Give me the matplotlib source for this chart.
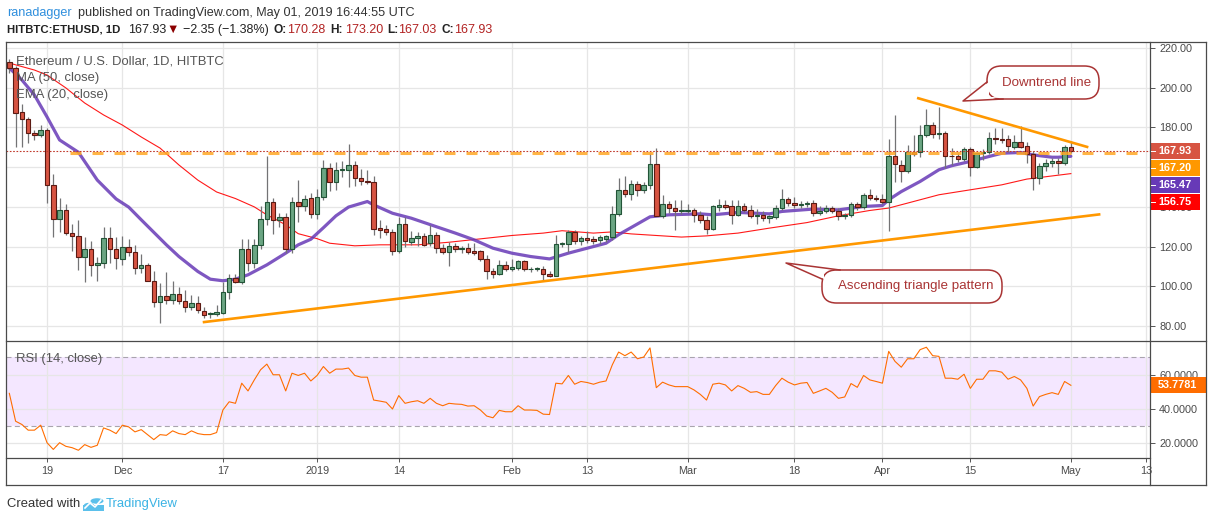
import numpy as np
import pandas as pd
import matplotlib
matplotlib.use("Agg")
import matplotlib.pyplot as plt
import matplotlib.dates as mdates
from matplotlib.patches import FancyBboxPatch, Polygon, Rectangle, Circle
from matplotlib.lines import Line2D

plt.rcParams['font.family'] = ['Liberation Sans', 'DejaVu Sans']

# ---------------- DATA ----------------
dates = pd.date_range('2018-11-13', '2019-05-01', freq='D')

opens = [213.0, 209.8, 187.6, 184.2, 177.4, 176.0, 178.7, 150.9, 133.8, 138.3, 126.8, 125.3, 114.7, 118.7, 110.7, 111.7, 124.2, 118.7,
         113.7, 119.7, 117.2, 109.1, 110.7, 102.9, 92.0, 95.2, 93.0, 96.0, 92.4, 89.5, 91.5, 87.8, 85.9, 86.0, 86.8, 96.9, 104.1, 102.4,
         118.7, 111.7, 120.6, 133.8, 142.7, 133.3, 134.8, 118.7, 142.4, 140.2, 144.4,
         136.5, 144.9, 159.5, 152.4, 158.5, 158.7, 161.2, 154.5, 153.0, 152.4, 129.3, 128.8, 127.3, 118.0, 131.3, 122.3, 124.2, 125.4,
         121.7, 125.9, 119.2, 117.5, 120.4, 118.9, 119.2, 117.9, 117.9, 113.7, 107.8, 106.3, 110.7,
         108.6, 109.1, 112.5, 108.5, 108.6, 108.6, 106.3, 105.4, 121.2, 121.2, 127.4, 122.6, 124.2, 123.7, 123.1, 123.7, 124.6, 136.4,
         148.6, 146.4, 151.6, 148.6, 150.8, 161.5, 135.5, 141.4, 139.4, 137.7,
         138.1, 138.2, 136.0, 133.5, 128.8, 140.0, 141.0, 140.2, 136.0, 140.2, 138.2, 135.6, 136.0, 134.3, 134.8, 139.4, 143.9, 141.9,
         140.7, 141.2, 141.9, 136.8, 137.7, 139.4, 138.0, 135.2, 135.7, 141.4, 139.9, 146.1, 144.7,
         144.0, 142.7, 165.7, 161.2, 158.3, 167.6, 167.6, 176.3, 181.3, 176.6, 177.1, 165.7, 165.4, 164.2, 169.1, 160.3, 167.1, 167.6,
         174.6, 174.3, 174.3, 170.4, 172.9, 170.7, 166.5, 154.5, 160.7, 162.3, 163.2, 162.0, 170.28]
highs = [214.5, 211.0, 191.8, 185.5, 178.7, 181.0, 179.5, 156.6, 144.4, 141.5, 131.5, 133.5, 124.8, 123.0, 115.0, 129.8, 129.8, 124.8,
         125.4, 123.7, 120.7, 116.4, 111.5, 107.5, 101.6, 107.0, 102.8, 99.6, 98.2, 95.7, 95.3, 89.8, 86.9, 90.7, 102.4, 106.3, 106.3,
         123.7, 123.7, 123.7, 140.2, 165.4, 144.4, 137.0, 136.8, 145.2, 153.3, 146.1, 147.2,
         149.0, 163.7, 162.3, 162.5, 163.0, 171.7, 162.9, 159.2, 158.7, 155.3, 133.5, 131.0, 129.1, 134.8, 134.8, 128.0, 127.3, 126.8,
         131.0, 127.4, 121.4, 122.1, 121.7, 120.5, 121.8, 122.0, 118.5, 115.9, 109.1, 113.5, 112.5,
         114.0, 113.4, 113.4, 109.8, 109.8, 110.0, 107.5, 126.0, 122.5, 128.4, 128.4, 125.5, 127.8, 125.5, 126.0, 126.0, 140.5, 154.5,
         155.5, 153.3, 153.0, 152.5, 167.0, 169.6, 146.1, 143.0, 143.3, 143.3,
         141.5, 139.4, 138.0, 135.5, 141.0, 143.9, 143.5, 143.5, 143.5, 141.9, 141.0, 139.0, 137.7, 136.0, 141.0, 149.1, 145.2, 144.9,
         143.0, 143.0, 143.3, 140.2, 141.0, 140.2, 139.4, 136.8, 142.7, 142.7, 147.0, 149.1, 146.0,
         146.5, 174.1, 186.4, 163.7, 171.2, 176.3, 181.3, 189.2, 182.5, 190.5, 178.0, 169.5, 167.0, 170.0, 170.0, 167.3, 169.0, 177.9,
         179.5, 179.5, 176.3, 176.3, 180.5, 172.9, 168.0, 162.0, 163.9, 164.5, 164.5, 171.2, 173.20]
lows = [207.5, 170.3, 170.3, 172.0, 173.6, 175.0, 141.9, 124.6, 127.6, 125.9, 118.0, 108.0, 102.4, 105.3, 102.9, 109.1, 111.7, 108.6,
        110.8, 115.4, 106.3, 106.5, 102.5, 89.8, 81.4, 91.0, 91.2, 91.0, 87.3, 88.0, 86.5, 84.0, 83.9, 85.0, 86.0, 93.6, 101.6, 101.0,
        107.5, 109.0, 119.0, 131.0, 126.4, 130.0, 116.7, 117.0, 132.6, 138.0, 134.3,
        134.0, 143.5, 148.2, 148.6, 155.0, 150.0, 150.3, 151.0, 151.5, 125.9, 124.2, 126.0, 115.9, 117.0, 119.7, 121.0, 120.4, 120.2,
        120.2, 117.0, 116.5, 110.2, 117.5, 116.8, 116.4, 116.0, 113.0, 103.6, 104.2, 105.5, 107.5,
        107.5, 108.0, 107.8, 107.2, 107.5, 102.9, 104.5, 105.0, 120.0, 117.5, 121.5, 121.0, 122.0, 121.5, 121.5, 122.5, 123.5, 135.2,
        144.9, 143.6, 145.5, 147.0, 149.1, 135.2, 134.5, 137.0, 128.4, 136.5,
        137.0, 132.5, 131.8, 126.5, 128.5, 138.0, 139.0, 131.5, 135.5, 137.5, 134.5, 131.5, 133.0, 131.7, 134.0, 138.5, 140.5, 139.5,
        139.5, 140.0, 135.2, 135.8, 137.0, 136.8, 133.2, 134.0, 135.0, 138.5, 139.0, 143.5, 143.0,
        141.5, 128.1, 152.3, 152.3, 157.0, 165.4, 165.0, 175.0, 174.6, 174.0, 159.5, 161.0, 162.8, 163.0, 155.3, 159.5, 163.5, 166.5,
        171.5, 172.0, 167.8, 169.0, 169.5, 162.0, 148.6, 151.6, 158.0, 160.0, 156.4, 161.0, 167.03]
closes = [210.0, 187.1, 184.2, 177.4, 176.0, 178.7, 150.9, 133.8, 138.3, 126.8, 125.3, 114.7, 118.7, 110.7, 111.7, 124.2, 118.7, 114.2,
          119.7, 117.2, 109.1, 110.7, 102.9, 92.0, 95.2, 93.0, 96.0, 92.4, 89.5, 91.5, 88.2, 85.6, 86.3, 87.0, 96.9, 104.1, 102.4,
          118.7, 111.7, 120.6, 133.8, 142.7, 133.3, 134.8, 118.7, 142.4, 140.2, 143.9, 136.5,
          144.9, 159.5, 152.4, 158.7, 158.9, 161.2, 154.5, 152.8, 152.4, 129.1, 128.6, 127.3, 118.0, 131.3, 122.6, 124.2, 125.4, 120.9,
          125.9, 119.2, 117.5, 120.4, 118.7, 119.3, 117.2, 117.0, 113.7, 107.8, 106.3, 110.7, 108.6,
          109.5, 112.5, 108.6, 108.7, 108.8, 106.1, 105.4, 121.2, 121.4, 127.4, 122.6, 124.2, 123.4, 122.6, 124.7, 125.1, 136.4, 148.6,
          146.4, 151.6, 148.6, 150.8, 161.5, 135.5, 141.4, 139.4, 137.7, 138.5,
          138.4, 135.7, 133.5, 128.8, 140.2, 141.0, 140.0, 136.0, 140.2, 138.2, 135.5, 135.8, 134.3, 135.2, 139.4, 143.9, 141.9, 140.7,
          141.5, 141.9, 136.8, 138.0, 139.4, 138.0, 135.5, 136.0, 141.4, 139.9, 146.1, 144.4, 143.9,
          142.7, 165.7, 161.7, 158.3, 167.6, 166.7, 176.3, 181.3, 176.8, 177.3, 165.4, 165.4, 164.2, 169.1, 160.3, 167.0, 167.5, 174.6,
          174.3, 173.9, 170.7, 172.9, 170.4, 166.5, 154.5, 160.7, 162.3, 163.2, 162.0, 170.1, 167.93]

rsi = [49.1, 32.9, 31.0, 27.7, 27.7, 30.6, 20.4, 16.5, 20.4, 18.3, 17.5, 16.0, 19.3, 17.7, 18.9, 29.0, 27.7, 25.7,
       30.6, 29.6, 26.7, 28.0, 25.1, 22.2, 25.1, 24.7, 27.3, 25.7, 25.1, 27.3, 25.7, 25.1, 25.1, 26.3, 39.4, 44.2, 43.3, 55.0,
       50.5, 56.9, 62.8, 66.1, 59.9, 59.9, 50.5, 60.8, 59.5, 60.8, 56.3,
       59.5, 64.7, 60.8, 63.2, 63.2, 63.8, 59.5, 58.5, 58.5, 45.2, 44.6, 43.9, 40.0, 47.8, 43.3, 44.2, 44.8, 43.3, 46.2, 43.3,
       41.9, 43.3, 42.9, 42.7, 41.7, 41.9, 39.4, 35.9, 34.9, 39.2, 38.4,
       38.4, 41.9, 39.4, 39.4, 39.2, 37.0, 36.8, 55.0, 54.6, 59.5, 54.4, 56.0, 55.4, 54.4, 55.6, 56.3, 65.7, 73.1, 71.0, 73.1,
       69.2, 70.2, 75.5, 52.4, 55.6, 54.0, 53.0, 53.0,
       53.0, 51.1, 48.5, 45.2, 54.4, 55.0, 54.0, 50.5, 53.6, 52.0, 49.7, 50.1, 48.5, 48.5, 53.6, 57.9, 55.6, 54.0, 55.0, 55.4,
       49.1, 50.5, 52.0, 49.7, 46.2, 47.0, 54.8, 52.6, 59.5, 56.9, 56.0,
       55.0, 73.5, 67.7, 64.3, 69.2, 69.2, 74.5, 75.9, 71.0, 70.6, 57.9, 57.9, 57.3, 60.2, 52.0, 57.3, 57.3, 62.2, 62.2, 61.4,
       57.3, 58.9, 56.9, 52.0, 41.7, 47.2, 48.5, 49.5, 48.5, 56.0, 53.78]
rsi_last = 53.7781

ema_dates = ['2018-11-13', '2018-11-15', '2018-11-17', '2018-11-19', '2018-11-21', '2018-11-24', '2018-11-27', '2018-11-30',
             '2018-12-02', '2018-12-04', '2018-12-08', '2018-12-10', '2018-12-13', '2018-12-15', '2018-12-17', '2018-12-19',
             '2018-12-21', '2018-12-24', '2018-12-27', '2018-12-29', '2018-12-31', '2019-01-02', '2019-01-04', '2019-01-06',
             '2019-01-09', '2019-01-10', '2019-01-13', '2019-01-16', '2019-01-20', '2019-01-23', '2019-01-26', '2019-01-29',
             '2019-02-01', '2019-02-04', '2019-02-07', '2019-02-10', '2019-02-13', '2019-02-16', '2019-02-18', '2019-02-23',
             '2019-02-26', '2019-03-03', '2019-03-05', '2019-03-09', '2019-03-14', '2019-03-16', '2019-03-21', '2019-03-25',
             '2019-03-29', '2019-04-01', '2019-04-02', '2019-04-04', '2019-04-07', '2019-04-10', '2019-04-12', '2019-04-15',
             '2019-04-18', '2019-04-20', '2019-04-23', '2019-04-25', '2019-04-28', '2019-04-29', '2019-05-01']
ema_vals = [209.9, 203.9, 196.3, 185.3, 173.7, 167.5, 153.5, 144.0, 139.9, 133.5, 120.9, 115.0, 107.5, 103.6, 102.8, 103.6,
            105.8, 110.8, 116.7, 120.9, 123.7, 129.5, 135.5, 139.9, 142.7, 141.0, 136.8, 134.3, 130.0, 126.8, 123.4, 119.2,
            116.7, 115.0, 113.8, 116.7, 119.2, 121.7, 126.0, 135.0, 136.0, 136.5, 136.0, 137.2, 136.5, 137.7, 138.9, 138.5,
            140.2, 140.7, 143.6, 147.7, 152.8, 158.7, 160.7, 162.9, 165.4, 167.0, 167.4, 166.2, 165.0, 165.0, 165.47]

ma_dates = ['2018-11-13', '2018-11-17', '2018-11-19', '2018-11-22', '2018-11-25', '2018-11-28', '2018-12-01', '2018-12-04',
            '2018-12-07', '2018-12-10', '2018-12-13', '2018-12-16', '2018-12-19', '2018-12-22', '2018-12-24', '2018-12-27',
            '2018-12-29', '2019-01-01', '2019-01-03', '2019-01-07', '2019-01-11', '2019-01-17', '2019-01-22', '2019-01-27',
            '2019-02-01', '2019-02-06', '2019-02-09', '2019-02-14', '2019-02-17', '2019-02-20', '2019-02-28', '2019-03-04',
            '2019-03-09', '2019-03-14', '2019-03-20', '2019-03-25', '2019-03-30', '2019-04-02', '2019-04-05', '2019-04-10',
            '2019-04-15', '2019-04-20', '2019-04-24', '2019-05-01']
ma_vals = [212.4, 208.9, 206.4, 199.9, 192.3, 186.3, 181.2, 175.2, 169.6, 161.1, 153.5, 147.5, 144.2, 140.0, 136.0, 131.0,
           126.5, 124.0, 121.7, 120.4, 120.9, 120.9, 122.2, 123.9, 125.6, 126.8, 128.0, 126.8, 127.4, 126.4, 124.8, 125.4,
           126.8, 129.3, 132.1, 135.5, 138.2, 139.4, 141.9, 146.1, 148.6, 151.1, 154.0, 156.75]

resistance = 167.20
resistance_span = ['2018-11-22 16:00', '2019-05-11 17:00']
support_dates = ['2018-12-14 00:00', '2019-05-05 12:00']
support_vals = [82.0, 136.2]
downtrend_dates = ['2019-04-06 17:00', '2019-05-03 14:00']
downtrend_vals = [194.7, 170.2]

tick_dates = ['2018-11-19', '2018-12-01', '2018-12-17', '2019-01-01', '2019-01-14', '2019-02-01', '2019-02-13',
              '2019-03-01', '2019-03-18', '2019-04-01', '2019-04-15', '2019-05-01', '2019-05-13']
tick_labels = ['19', 'Dec', '17', '2019', '14', 'Feb', '13', 'Mar', '18', 'Apr', '15', 'May', '13']


def dnum(lst):
    return mdates.date2num(pd.to_datetime(lst, format='mixed'))


# ---------------- FIGURE ----------------
W, H = 1213, 521
fig = plt.figure(figsize=(W / 100, H / 100), dpi=100)
fig.patch.set_facecolor('white')


def fx(px):
    return px / W


def fy(py):
    return 1 - py / H


ax = fig.add_axes([fx(6), fy(341), (1150 - 6) / W, (341 - 42) / H])
rax = fig.add_axes([fx(6), fy(458), (1150 - 6) / W, (458 - 341) / H], sharex=ax)

x = mdates.date2num(dates)
o = np.array(opens)
h = np.array(highs)
l = np.array(lows)
c = np.array(closes)
x0 = mdates.date2num(pd.Timestamp('2018-11-19'))

for a in (ax, rax):
    for s in a.spines.values():
        s.set_visible(False)
    a.set_facecolor('none')
    a.set_axisbelow(True)
    a.set_xticks(dnum(tick_dates))
    a.grid(True, color='#e6e6e6', lw=0.9)

ax.set_xlim(x0 - 6.53, x0 + 175.6)
ax.set_ylim(72.47, 223.02)
rax.set_ylim(11.51, 79.53)

# candles
ax.vlines(x, l, h, color='#737375', lw=0.9, zorder=3)
up = c >= o
bottom = np.minimum(o, c)
height = np.maximum(np.abs(c - o), 0.45)
ax.bar(x[up], height[up], bottom=bottom[up], width=0.72, color='#6ba583', edgecolor='#225437', linewidth=0.8, zorder=4)
ax.bar(x[~up], height[~up], bottom=bottom[~up], width=0.72, color='#d75442', edgecolor='#5b1a13', linewidth=0.8, zorder=4)

# moving averages
ax.plot(dnum(ma_dates), ma_vals, color='#ff0000', lw=0.8, alpha=0.9, zorder=2)
ax.plot(dnum(ema_dates), ema_vals, color='#673ab7', lw=2.3, alpha=0.85, zorder=2, solid_capstyle='round')

# horizontal resistance, last price
rl, = ax.plot(dnum(resistance_span), [resistance, resistance], color='#ffa726', lw=2.2, alpha=0.85, zorder=5)
rl.set_dashes([3.6, 3.6])
rl.set_dash_capstyle('butt')
ax.axhline(closes[-1], color='#c0392b', lw=0.8, ls=(0, (1.5, 1.5)), zorder=5)

# trendlines
ax.plot(dnum(support_dates), support_vals, color='#ff9800', lw=1.9, zorder=6)
ax.plot(dnum(downtrend_dates), downtrend_vals, color='#ff9800', lw=1.9, zorder=6)

# price axis
ax.yaxis.tick_right()
ax.set_yticks(np.arange(80, 221, 20))
ax.set_yticklabels(['%.2f' % v for v in np.arange(80, 221, 20)])
ax.tick_params(axis='y', length=3.6, width=0.7, color='#555555', labelsize=7.8, labelcolor='#4a4a4a', pad=3)
ax.tick_params(axis='x', length=0, labelbottom=False)

# RSI panel
rax.axhspan(30, 70, color='#9915ff', alpha=0.1, lw=0, zorder=0)
for lev in (70, 30):
    hl = rax.axhline(lev, color='#a9a4ae', lw=0.8, zorder=1)
    hl.set_dashes([4.5, 3])
rax.plot(x, rsi, color='#ff6d00', lw=0.8, zorder=3)
rax.yaxis.tick_right()
rax.set_yticks([20, 40, 60])
rax.set_yticklabels(['20.0000', '40.0000', '60.0000'])
rax.tick_params(axis='y', length=3.6, width=0.7, color='#555555', labelsize=7.8, labelcolor='#4a4a4a', pad=3)
rax.set_xticks(dnum(tick_dates))
rax.set_xticklabels(tick_labels)
rax.tick_params(axis='x', length=3, width=0.7, color='#555555', labelsize=7.8, labelcolor='#4a4a4a', pad=3)


# frame
def fline(xa, ya, xb, yb):
    fig.add_artist(Line2D([fx(xa), fx(xb)], [fy(ya), fy(yb)], transform=fig.transFigure, color='#4a4a4a', lw=0.9))


fline(6, 42, 1206, 42)
fline(6, 42, 6, 485)
fline(1206, 42, 1206, 485)
fline(6, 485, 1206, 485)
fline(6, 341, 1206, 341)
fline(6, 458, 1150, 458)
fline(1150, 42, 1150, 485)

# legend texts
fig.text(fx(16), fy(61), 'Ethereum / U.S. Dollar, 1D, HITBTC', fontsize=9.4, color='#555555', va='center')
fig.text(fx(16), fy(78), 'MA (50, close)', fontsize=9.4, color='#555555', va='center')
fig.text(fx(16), fy(95), 'EMA (20, close)', fontsize=9.4, color='#555555', va='center')
fig.text(fx(16), fy(359), 'RSI (14, close)', fontsize=9.4, color='#555555', va='center')

# header
fig.text(fx(7), fy(13), 'ranadagger', fontsize=9.1, color='#2f8fdd', va='center')
fig.text(fx(78), fy(13), 'published on TradingView.com, May 01, 2019 16:44:55 UTC', fontsize=9.1, color='#333333',
         va='center')
header = [(7, 'HITBTC:ETHUSD, 1D', '#222222', 'bold', 8.2), (128, '167.93', '#222222', 'normal', 9.0),
          (166, '\u25bc', '#8b0000', 'normal', 9.0), (183, '\u22122.35 (\u22121.38%)', '#222222', 'normal', 9.0),
          (273, 'O:', '#222222', 'bold', 8.6), (287, '170.28', '#b22222', 'normal', 9.0),
          (330, 'H:', '#222222', 'bold', 8.6), (345, '173.20', '#b22222', 'normal', 9.0),
          (387, 'L:', '#222222', 'bold', 8.6), (398, '167.03', '#b22222', 'normal', 9.0),
          (441, 'C:', '#222222', 'bold', 8.6), (454, '167.93', '#b22222', 'normal', 9.0)]
for xp, txt, col, wt, sz in header:
    fig.text(fx(xp), fy(30), txt, fontsize=sz, color=col, fontweight=wt, va='center', ha='left')

# footer with a small logo
fig.text(fx(7), fy(504), 'Created with', fontsize=9.4, color='#333333', va='center')
for cx, cy, r in [(89, 505, 5), (97, 501, 6.5)]:
    fig.add_artist(Circle((fx(cx), fy(cy)), r / W, transform=fig.transFigure, color='#5bc0eb', lw=0))
fig.add_artist(Rectangle((fx(83), fy(511)), 21 / W, 6 / H, transform=fig.transFigure, color='#5bc0eb', lw=0))
fig.add_artist(Line2D([fx(85), fx(90), fx(95), fx(101)], [fy(508), fy(503), fy(507), fy(500)],
                      transform=fig.transFigure, color='white', lw=1.2))
fig.text(fx(106), fy(504), 'TradingView', fontsize=9.4, color='#3bb3e4', va='center')

# price labels on the right axis
fig.canvas.draw()
labels = [(closes[-1], '#d75442'), (resistance, '#ff9800'), (ema_vals[-1], '#673ab7'), (ma_vals[-1], '#ff0000')]
prev = None
for val, col in labels:
    yd = ax.transData.transform((x[-1], val))[1]
    yimg = H - yd
    if prev is not None and yimg < prev + 16.7:
        yimg = prev + 16.7
    prev = yimg
    fig.add_artist(Rectangle((fx(1150), fy(yimg + 8)), 50 / W, 16 / H, transform=fig.transFigure, color=col, lw=0))
    fig.add_artist(Line2D([fx(1151), fx(1155)], [fy(yimg), fy(yimg)], transform=fig.transFigure, color='white', lw=0.7))
    fig.text(fx(1158), fy(yimg), '%.2f' % val, fontsize=7.8, color='white', fontweight='bold', va='center')

yd = rax.transData.transform((x[-1], rsi[-1]))[1]
yimg = H - yd
fig.add_artist(Rectangle((fx(1150), fy(yimg + 8)), 56 / W, 16 / H, transform=fig.transFigure, color='#ff6d00', lw=0))
fig.text(fx(1158), fy(yimg), '%.4f' % rsi_last, fontsize=7.8, color='white', fontweight='bold', va='center')


# callouts
def callout(bx0, by0, bx1, by1, b1, tip, b2, text):
    box = FancyBboxPatch((fx(bx0), fy(by1)), (bx1 - bx0) / W, (by1 - by0) / H,
                         boxstyle='round,pad=0,rounding_size=0.012', mutation_aspect=W / H,
                         transform=fig.transFigure, fc='white', ec='#a93434', lw=1.1, zorder=10)
    fig.add_artist(box)
    inner = [(fx(b1[0] + 2), fy(b1[1])), (fx(tip[0]), fy(tip[1])), (fx(b2[0]), fy(b2[1] - 2)),
             (fx(b1[0] + 2), fy(b2[1] - 2))]
    fig.add_artist(Polygon(inner, closed=True, transform=fig.transFigure, fc='white', ec='none', zorder=11))
    fig.add_artist(Line2D([fx(b1[0]), fx(tip[0]), fx(b2[0])], [fy(b1[1]), fy(tip[1]), fy(b2[1])],
                          transform=fig.transFigure, color='#a93434', lw=1.1, zorder=12))
    fig.text(fx((bx0 + bx1) / 2 + 4), fy((by0 + by1) / 2), text, fontsize=9.6, color='#a93434', ha='center',
             va='center', zorder=13)


callout(987, 66, 1099, 99, (987, 82), (963, 101), (1003, 99), 'Downtrend line')
callout(822, 270, 1002, 303, (822, 279), (786, 263), (840, 270), 'Ascending triangle pattern')

fig.savefig('out.png', dpi=100, facecolor='white')
